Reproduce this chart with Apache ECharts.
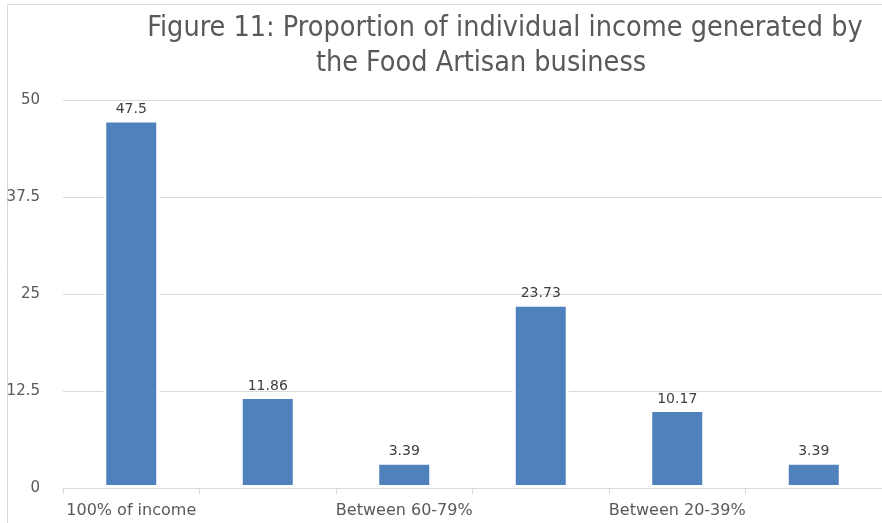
<!DOCTYPE html>
<html>
<head>
<meta charset="utf-8">
<script src="https://cdn.jsdelivr.net/npm/echarts@6/dist/echarts.min.js"></script>
<style>
  html, body { margin: 0; padding: 0; background: #fff; }
  #chart { width: 882px; height: 523px; }
</style>
</head>
<body>
<div id="chart"></div>
<script>
// Share of each artisan's personal income that comes from the food business
const titleLines = ['Figure 11: Proportion of individual income generated by', 'the Food Artisan business'];
const categories = ['100% of income', 'Between 80-99%', 'Between 60-79%', 'Between 40-59%', 'Between 20-39%', 'Less than 20%'];
const shares = [47.5, 11.86, 3.39, 23.73, 10.17, 3.39];
const yTicks = [0, 12.5, 25, 37.5, 50];

const titleFont = {
  fontFamily: 'DejaVu Sans Condensed',
  fontWeight: 'normal',
  fontSize: 28.5,
  color: '#595959'
};

const chart = echarts.init(document.getElementById('chart'), null, { renderer: 'canvas' });

chart.setOption({
  animation: false,
  backgroundColor: '#ffffff',
  title: [
    { text: titleLines[0], left: 500, top: 9, textAlign: 'center', textStyle: titleFont },
    { text: titleLines[1], left: 476, top: 44, textAlign: 'center', textStyle: titleFont }
  ],
  graphic: [{
    type: 'rect',
    shape: { x: 7.5, y: 4.5, width: 890, height: 530 },
    style: { fill: 'none', stroke: '#d9d9d9', lineWidth: 1 },
    silent: true
  }],
  grid: { left: 63, right: -5, top: 100, bottom: 35, containLabel: false },
  xAxis: {
    type: 'category',
    data: categories,
    axisLine: { lineStyle: { color: '#d9d9d9', width: 1 } },
    axisTick: { show: true, interval: 0, length: 6, lineStyle: { color: '#d9d9d9' } },
    axisLabel: {
      interval: 1,
      margin: 15,
      fontFamily: 'DejaVu Sans',
      fontSize: 16,
      color: '#595959'
    }
  },
  yAxis: {
    type: 'value',
    min: yTicks[0],
    max: yTicks[yTicks.length - 1],
    interval: 12.5,
    axisLine: { show: false },
    axisTick: { show: false },
    axisLabel: {
      margin: 23,
      fontFamily: 'DejaVu Sans',
      fontSize: 15,
      color: '#595959'
    },
    splitLine: { lineStyle: { color: '#d9d9d9', width: 1 } }
  },
  series: [{
    type: 'bar',
    data: shares,
    barWidth: 56,
    itemStyle: { color: '#4f81bd', borderColor: '#ffffff', borderWidth: 3 },
    label: {
      show: true,
      position: 'top',
      distance: 3,
      fontFamily: 'DejaVu Sans',
      fontSize: 14,
      color: '#404040'
    }
  }]
});
</script>
</body>
</html>
